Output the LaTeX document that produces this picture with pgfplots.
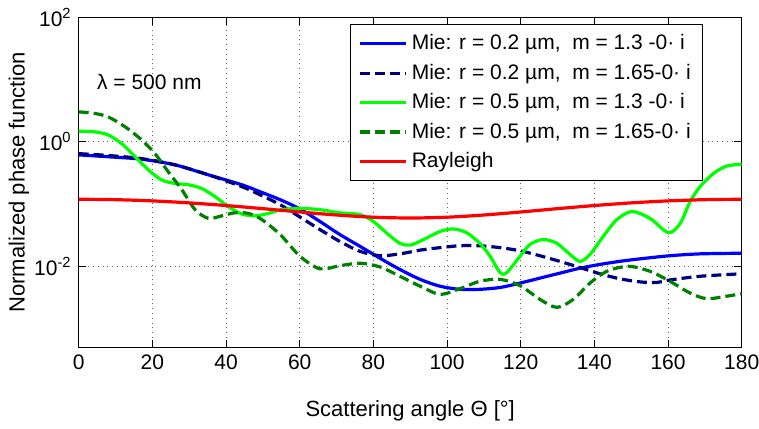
\documentclass[border=0pt]{standalone}
\usepackage{fontspec}
\setmainfont{Liberation Sans}
\usepackage{pgfplots}
\pgfplotsset{compat=1.18}
\usetikzlibrary{calc}

\definecolor{mieblue}{rgb}{0,0,1}
\definecolor{mienavy}{rgb}{0,0,0.5}
\definecolor{miegreen}{rgb}{0,1,0}
\definecolor{miedkgreen}{rgb}{0,0.5,0}
\definecolor{rayred}{rgb}{1,0,0}

\begin{document}
\begin{tikzpicture}
\begin{axis}[
    scale only axis,
    width=331.5pt, height=165pt,
    ymode=log,
    xmin=0, xmax=180,
    ymin=5e-4, ymax=100,
    xtick={0,20,...,180},
    ytick={1e-2,1,1e2},
    yticklabels={10\textsuperscript{-2},10\textsuperscript{0},10\textsuperscript{2}},
    minor tick length=0pt,
    tick pos=both, tick align=inside,
    major tick length=3.8pt,
    grid=major,
    grid style={black!60, dotted, line width=0.5pt},
    axis line style={line width=0.5pt},
    every tick/.style={black, line width=0.5pt},
    tick label style={font=\fontsize{10.5}{12}\selectfont},
    /pgf/number format/assume math mode=true,
    xlabel={Scattering angle Θ [°]},
    ylabel={Normalized phase function},
    label style={font=\fontsize{11}{13}\selectfont},
    xlabel style={at={(axis description cs:0.5,-0.191)}, anchor=center},
    ylabel style={at={(axis description cs:-0.090,0.5)}, anchor=center},
    legend style={at={(axis description cs:0.942,0.979)}, anchor=north east,
        draw=black, line width=0.5pt, fill=white,
        font=\fontsize{10.5}{12.6}\selectfont,
        row sep=1.6pt, inner xsep=4pt, inner ysep=3pt},
    legend cell align=left,
    legend image code/.code={\draw[#1] (0pt,0pt) -- (23pt,0pt);},
    every axis plot/.append style={line width=1.6pt},
]

% r = 0.2 um, m = 1.3
\addplot[mieblue, smooth] coordinates {
(0,0.617) (8,0.575) (17.1,0.525) (26.1,0.427) (35.2,0.295) (44.3,0.204)
(49.2,0.158) (54.7,0.1175) (60.1,0.0832) (65.5,0.0525) (70.9,0.0324)
(76.4,0.0209) (81.8,0.01349) (87.2,0.00891) (92.7,0.00617) (98.1,0.00479)
(103.5,0.00427) (108.9,0.00427) (114.4,0.00457) (119.8,0.00537)
(125.2,0.00646) (130.6,0.00776) (136.1,0.00933) (141.5,0.01072)
(146.9,0.01202) (152.4,0.01318) (160.5,0.01479) (168.7,0.01585) (180,0.01622)
};
\addlegendentry{Mie: r = 0.2 µm,\ \ m = 1.3 -0· i}

% r = 0.2 um, m = 1.65
\addplot[mienavy, smooth, dash pattern=on 5pt off 2.5pt] coordinates {
(0,0.646) (8,0.603) (17.1,0.537) (26.1,0.427) (35.2,0.295) (44.3,0.1905)
(49.2,0.1413) (54.7,0.0977) (60.1,0.0617) (65.5,0.0389) (70.9,0.0251)
(76.4,0.01738) (81.8,0.01479) (87.2,0.01585) (92.7,0.01820) (98.1,0.01995)
(103.5,0.0214) (108.9,0.0214) (114.4,0.01995) (119.8,0.01778)
(125.2,0.01479) (130.6,0.01202) (136.1,0.00955) (141.5,0.00759)
(146.9,0.00631) (152.4,0.00562) (157,0.00550) (160.5,0.00603)
(168.7,0.00692) (180,0.00759)
};
\addlegendentry{Mie: r = 0.2 µm,\ \ m = 1.65-0· i}

% r = 0.5 um, m = 1.3
\addplot[miegreen, smooth] coordinates {
(0,1.479) (4.4,1.445) (8,1.288) (11.7,0.933) (15.3,0.575) (18.9,0.355)
(22.5,0.245) (26.1,0.214) (29.8,0.204) (33.4,0.178) (37,0.132) (40.6,0.0912)
(44.3,0.0692) (47.9,0.0646) (51.5,0.0708) (55,0.0813) (60.1,0.0851)
(65.5,0.0813) (70.9,0.0724) (76.4,0.0676) (80,0.0525) (83.7,0.0339)
(87.2,0.0234) (90,0.0219) (93.6,0.0269) (98.1,0.0363) (101.7,0.0398)
(105.3,0.0347) (108.9,0.0234) (111.7,0.01445) (114.4,0.00794)
(116.2,0.00794) (119.8,0.01445) (122.5,0.0224) (126.1,0.0269)
(129.8,0.0234) (133.4,0.0155) (136.1,0.0120) (138.8,0.0155)
(142.4,0.0302) (146.1,0.0562) (150.2,0.0759) (155.1,0.0589)
(160.1,0.0347) (163.3,0.0490) (166,0.1096) (168.7,0.1905)
(172.3,0.309) (175.9,0.407) (180,0.437)
};
\addlegendentry{Mie: r = 0.5 µm,\ \ m = 1.3 -0· i}

% r = 0.5 um, m = 1.65
\addplot[miedkgreen, smooth, dash pattern=on 5pt off 2.5pt] coordinates {
(0,3.02) (4,2.88) (8,2.51) (12.6,1.74) (17.1,1.07) (20.7,0.646)
(24.3,0.331) (28,0.170) (31.6,0.0813) (35.2,0.0589) (38.8,0.0646)
(42.4,0.0724) (46,0.0708) (49.5,0.0575) (54.7,0.0324) (60.1,0.01445)
(65.5,0.00912) (70.9,0.01023) (76.4,0.01122) (81.8,0.00977)
(87.2,0.00692) (92.7,0.00479) (98.1,0.00355) (103.5,0.00437)
(108.9,0.00575) (114.4,0.00617) (119.8,0.00490) (125.2,0.00295)
(129.8,0.00219) (134.3,0.00295) (138.8,0.00537) (143.4,0.00832)
(149.2,0.0100) (155.1,0.00832) (160.5,0.00575) (166,0.00372)
(170.5,0.00302) (175.9,0.00331) (180,0.00363)
};
\addlegendentry{Mie: r = 0.5 µm,\ \ m = 1.65-0· i}

% Rayleigh
\addplot[rayred, smooth] coordinates {
(0,0.1194) (10,0.1176) (20,0.1124) (30,0.1045) (40,0.0947) (50,0.0844)
(60,0.0746) (70,0.0667) (80,0.0615) (90,0.0597) (100,0.0615) (110,0.0667)
(120,0.0746) (130,0.0844) (140,0.0947) (150,0.1045) (160,0.1124)
(170,0.1176) (180,0.1194)
};
\addlegendentry{Rayleigh}

\node[anchor=west, inner sep=0pt, font=\fontsize{10.5}{12}\selectfont]
    at (axis cs:4.9,9.1) {λ = 500 nm};
\end{axis}
\pgfresetboundingbox
\path ($(current axis.south west)+(-39.35pt,-40.35pt)$)
    rectangle ($(current axis.north east)+(8.65pt,8.65pt)$);
\end{tikzpicture}
\end{document}
